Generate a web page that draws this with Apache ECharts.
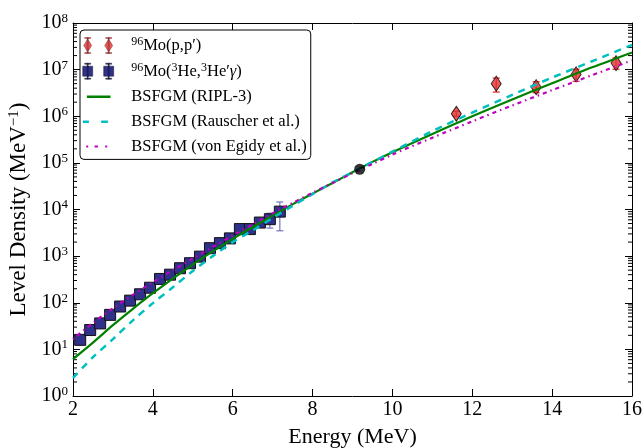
<!DOCTYPE html>
<html><head><meta charset="utf-8">
<script src="https://cdn.jsdelivr.net/npm/echarts@6/dist/echarts.min.js"></script>
<style>html,body{margin:0;padding:0;background:#fff}#c{width:644px;height:448px}</style>
</head><body><div id="c"></div>
<script>
// ---- data ----
const xTicks = [2, 4, 6, 8, 10, 12, 14, 16];
const yMinorTicks = [];
[1, 10, 100, 1e3, 1e4, 1e5, 1e6, 1e7].forEach(d => [2,3,4,5,6,7,8,9].forEach(m => yMinorTicks.push(d * m)));

const curveE   = [2, 2.5, 3, 3.5, 4, 4.5, 5, 5.5, 6, 6.5, 7, 7.5, 8, 8.5, 9, 9.5, 10, 11, 12, 13, 14, 15, 16];
const ripl     = [6.2, 14, 33, 74, 160, 330, 660, 1260, 2340, 4200, 7400, 12900, 21900, 37000, 63000, 105000, 170000, 417000, 1.0e6, 2.29e6, 5.1e6, 1.12e7, 2.34e7];
const rauscher = [2.45, 6.8, 16.6, 42, 98, 214, 480, 1000, 2000, 3550, 6600, 12000, 21400, 38000, 63000, 105000, 174000, 479000, 1.2e6, 2.88e6, 6.76e6, 1.51e7, 3.39e7];
const egidy    = [16.6, 37, 76, 148, 275, 500, 890, 1580, 2750, 4800, 8300, 13800, 22900, 37000, 60000, 95000, 151000, 347000, 776000, 1.7e6, 3.63e6, 7.6e6, 1.58e7];

const heE    = [2.18, 2.43, 2.68, 2.93, 3.18, 3.43, 3.68, 3.93, 4.18, 4.43, 4.68, 4.93, 5.18, 5.43, 5.68, 5.93, 6.18, 6.43, 6.68, 6.93, 7.18];
const heVal  = [16, 26, 36, 55, 83, 111, 152, 210, 324, 400, 550, 705, 975, 1480, 1900, 2400, 3800, 3800, 5250, 6200, 9000];
const heLow  = [null, null, null, null, null, null, null, null, null, null, null, null, null, null, null, null, null, null, null, 4000, 3500];
const heHigh = [null, null, null, null, null, null, null, null, null, null, null, null, null, null, null, null, null, null, null, 8300, 14500];

const ppE    = [11.6, 12.6, 13.6, 14.6, 15.6];
const ppVal  = [1.13e6, 5.0e6, 4.2e6, 7.9e6, 1.38e7];
const ppLow  = [1.0e6, 3.3e6, 3.2e6, 5.6e6, 1.02e7];
const ppHigh = [1.28e6, 6.6e6, 5.5e6, 1.02e7, 1.78e7];

const normE = [9.18];
const normVal = [7.3e4];

const labels = {
  pp: '{s|96}Mo(p,p′)',
  he: '{s|96}Mo({s|3}He,{s|3}He′{i|γ})',
  ripl: 'BSFGM (RIPL-3)',
  rau: 'BSFGM (Rauscher et al.)',
  egi: 'BSFGM (von Egidy et al.)'
};

// ---- styles ----
const FONT = 'Liberation Serif';
const cRed = '#e2302f', cBlue = '#2f318a', cGreen = '#008000', cCyan = '#00bfbf', cMag = '#bf00bf';
const zip = (a, b) => a.map((v, i) => [v, b[i]]);

function errBars(E, lo, hi) {
  return E.map((e, i) => [e, lo[i], hi[i]]).filter(d => d[1] != null);
}
function errRender(color) {
  return function (params, api) {
    const p1 = api.coord([api.value(0), api.value(1)]);
    const p2 = api.coord([api.value(0), api.value(2)]);
    const st = { stroke: color, lineWidth: 1.3 };
    return { type: 'group', children: [
      { type: 'line', shape: { x1: p1[0], y1: p1[1], x2: p2[0], y2: p2[1] }, style: st },
      { type: 'line', shape: { x1: p1[0] - 3.5, y1: p1[1], x2: p1[0] + 3.5, y2: p1[1] }, style: st },
      { type: 'line', shape: { x1: p2[0] - 3.5, y1: p2[1], x2: p2[0] + 3.5, y2: p2[1] }, style: st }
    ]};
  };
}

const BOX = 'M0,0h0.01v0.01h-0.01Z M39.99,17.99h0.01v0.01h-0.01Z ';
const iconPP = 'path://' + BOX +
  'M5,1h1v16h-1Z M2.5,1h6v1h-6Z M2.5,16h6v1h-6Z M5.5,2.5L9.5,9L5.5,15.5L1.5,9Z' +
  'M26,1h1v16h-1Z M23.5,1h6v1h-6Z M23.5,16h6v1h-6Z M26.5,2.5L30.5,9L26.5,15.5L22.5,9Z';
const iconHE = 'path://' + BOX +
  'M5,1h1v16h-1Z M2.5,1h6v1h-6Z M2.5,16h6v1h-6Z M0.5,4h10v10h-10Z' +
  'M26,1h1v16h-1Z M23.5,1h6v1h-6Z M23.5,16h6v1h-6Z M21.5,4h10v10h-10Z';
const iconLine = 'path://' + BOX + 'M4.7,8h23.6v2.5h-23.6Z';
const iconDash = 'path://' + BOX + 'M0.7,8h6v2.5h-6Z M19,8h6.7v2.5h-6.7Z';
const iconDot = 'path://' + BOX + 'M4,8h2v2h-2Z M12.3,8h3.4v2h-3.4Z M23,8h2v2h-2Z';

const chart = echarts.init(document.getElementById('c'), null, { renderer: 'canvas' });
const grid = { left: 73, right: 12, top: 23, bottom: 52, outerBoundsMode: 'none', containLabel: false };

const supRich = { s: { fontSize: 13, fontFamily: FONT, color: '#000', padding: [0, 0, 9, 0] } };

const option = {
  animation: false,
  backgroundColor: '#fff',
  grid: grid,
  xAxis: [{
    type: 'value', min: 2, max: 16, interval: 2, position: 'bottom',
    name: 'Energy (MeV)', nameLocation: 'middle', nameGap: 30,
    nameTextStyle: { fontFamily: FONT, fontSize: 22, color: '#000' },
    axisLine: { lineStyle: { color: '#000', width: 1 } },
    axisTick: { inside: true, length: 7, lineStyle: { color: '#000' } },
    axisLabel: { fontFamily: FONT, fontSize: 20, color: '#000', margin: 4,
      formatter: v => xTicks.includes(v) ? String(v) : '' },
    splitLine: { show: false }
  }, {
    type: 'value', min: 2, max: 16, interval: 2, position: 'top',
    axisLine: { lineStyle: { color: '#000', width: 1 } },
    axisTick: { inside: true, length: 7, lineStyle: { color: '#000' } },
    axisLabel: { show: false }, splitLine: { show: false }
  }],
  yAxis: [{
    type: 'log', logBase: 10, min: 1, max: 1e8, interval: 1, splitNumber: 8, position: 'left',
    name: 'Level Density (MeV{s|−1})', nameLocation: 'middle', nameGap: 36, nameRotate: 90,
    nameTextStyle: { fontFamily: FONT, fontSize: 23, color: '#000', rich: { s: { fontSize: 15, fontFamily: FONT, color: '#000', padding: [0, 0, 10, 0] } } },
    axisLine: { show: true, lineStyle: { color: '#000', width: 1 } },
    axisTick: { inside: true, length: 7, lineStyle: { color: '#000' } },
    axisLabel: { fontFamily: FONT, fontSize: 20, color: '#000', margin: 5,
      formatter: v => '10{s|' + Math.round(Math.log10(v)) + '}', rich: supRich },
    splitLine: { show: false }
  }, {
    type: 'log', logBase: 10, min: 1, max: 1e8, interval: 1, splitNumber: 8, position: 'right',
    axisLine: { show: true, lineStyle: { color: '#000', width: 1 } },
    axisTick: { inside: true, length: 7, lineStyle: { color: '#000' } },
    axisLabel: { show: false }, splitLine: { show: false }
  }],
  legend: {
    left: 80, top: 30, orient: 'vertical',
    backgroundColor: '#fff', borderColor: '#000', borderWidth: 1, borderRadius: 4,
    padding: [6, 4, 4, 2], itemGap: 7, itemWidth: 48, itemHeight: 18,
    selectedMode: false,
    textStyle: { fontFamily: FONT, fontSize: 16.5, color: '#000',
      rich: { s: { fontSize: 12, fontFamily: FONT, color: '#000', padding: [0, 0, 7, 0] },
              i: { fontSize: 16.5, fontFamily: FONT, fontStyle: 'italic', color: '#000' } } },
    formatter: n => labels[n],
    data: [
      { name: 'pp', icon: iconPP, itemStyle: { color: cRed, borderColor: '#400', borderWidth: 0.4 } },
      { name: 'he', icon: iconHE, itemStyle: { color: cBlue, borderColor: '#000', borderWidth: 0.4 } },
      { name: 'ripl', icon: iconLine, itemStyle: { color: cGreen, borderWidth: 0 } },
      { name: 'rau', icon: iconDash, itemStyle: { color: cCyan, borderWidth: 0 } },
      { name: 'egi', icon: iconDot, itemStyle: { color: cMag, borderWidth: 0 } }
    ]
  },
  series: [
    { name: 'minorTicks', type: 'custom', xAxisIndex: 0, yAxisIndex: 0, silent: true, z: 1,
      data: yMinorTicks.map(v => [2, v]),
      renderItem: function (params, api) {
        const cs = params.coordSys;
        const y = api.coord([2, api.value(1)])[1];
        const st = { stroke: '#000', lineWidth: 1 };
        return { type: 'group', children: [
          { type: 'line', shape: { x1: cs.x, y1: y, x2: cs.x + 4, y2: y }, style: st },
          { type: 'line', shape: { x1: cs.x + cs.width - 4, y1: y, x2: cs.x + cs.width, y2: y }, style: st }
        ]};
      }
    },
    { name: 'heErr', type: 'custom', silent: true, z: 2, data: errBars(heE, heLow, heHigh),
      encode: { x: 0, y: [1, 2] }, renderItem: errRender('#7d7dc0') },
    { name: 'ppErr', type: 'custom', silent: true, z: 2, data: errBars(ppE, ppLow, ppHigh),
      encode: { x: 0, y: [1, 2] }, renderItem: errRender(cRed) },
    { name: 'he', type: 'scatter', z: 3, symbol: 'rect', symbolSize: 11, data: zip(heE, heVal),
      itemStyle: { color: cBlue, borderColor: '#111', borderWidth: 1, opacity: 1 } },
    { name: 'pp', type: 'scatter', z: 3, symbol: 'diamond', symbolSize: [10, 15], data: zip(ppE, ppVal),
      itemStyle: { color: cRed, borderColor: '#000', borderWidth: 1 } },
    { name: 'ripl', type: 'line', z: 4, smooth: 0.3, symbol: 'none', data: zip(curveE, ripl), color: cGreen,
      lineStyle: { color: cGreen, width: 2.2 } },
    { name: 'rau', type: 'line', z: 4, smooth: 0.3, symbol: 'none', data: zip(curveE, rauscher), color: cCyan,
      lineStyle: { color: cCyan, width: 2.5, type: [7, 6] } },
    { name: 'egi', type: 'line', z: 4, smooth: 0.3, symbol: 'none', data: zip(curveE, egidy), color: cMag,
      lineStyle: { color: cMag, width: 2.2, type: [1.5, 4, 4, 4] } },
    { name: 'norm', type: 'scatter', z: 5, symbol: 'circle', symbolSize: 11, data: zip(normE, normVal),
      itemStyle: { color: '#000' } }
  ]
};
chart.setOption(option);
</script>
</body></html>
